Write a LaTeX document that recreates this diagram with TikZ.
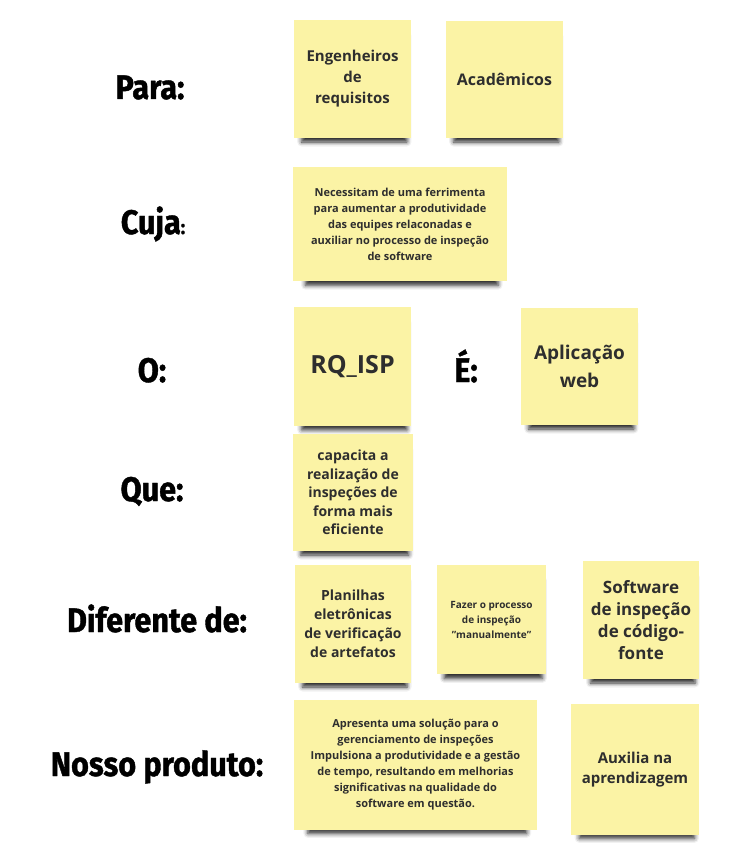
\documentclass[tikz,border=0pt]{standalone}
\usepackage{fontspec}
\setmainfont{Open Sans}
\newfontfamily\lblfont[FakeStretch=0.9, FakeBold=1.2]{Fira Sans}
\usetikzlibrary{positioning, shadows.blur}
\definecolor{stickyyellow}{HTML}{FBF3A5}
\definecolor{stickytext}{HTML}{2E2E2E}

\begin{document}
\begin{tikzpicture}[x=1pt, y=-1pt,
    note/.style={fill=stickyyellow, inner sep=0pt, align=center, text=stickytext,
                 blur shadow={shadow xshift=2pt, shadow yshift=-11pt, shadow scale=0.9,
                              shadow opacity=85, shadow blur radius=5pt}},
    lbl/.style={anchor=base, font=\lblfont\bfseries\fontsize{34}{34}\selectfont},
]
    \useasboundingbox (0,0) rectangle (731,848);

    % Row labels
    \node[lbl] (para) at (150,99) {Para:};
    \node[lbl] (cuja) at (153,234) {Cuja{\fontsize{20}{20}\selectfont:}};
    \node[lbl] (o) at (152,382) {O:};
    \node[lbl] (e) at (466,382) {É:};
    \node[lbl] (que) at (152,501) {Que:};
    \node[lbl] (dif) at (157,632) {Diferente de:};
    \node[lbl] (nosso) at (157,776) {Nosso produto:};

    % Para
    \node[note, minimum width=117pt, minimum height=118pt,
          font=\bfseries\fontsize{15}{21}\selectfont] (eng) at (352.5,79)
          {Engenheiros\\de\\requisitos};
    \node[note, minimum width=117pt, minimum height=117pt,
          font=\bfseries\fontsize{16}{21}\selectfont] (acad) at (504.5,79.5)
          {Acadêmicos};

    % Cuja
    \node[note, minimum width=214pt, minimum height=114pt,
          font=\bfseries\fontsize{11}{16}\selectfont] (necess) at (400,224)
          {Necessitam de uma ferrimenta\\para aumentar a produtividade\\das equipes relaconadas e\\auxiliar no processo de inspeção\\de software};

    % O / É
    \node[note, minimum width=117pt, minimum height=119pt,
          font=\bfseries\fontsize{25}{30}\selectfont] (rqisp) at (352.5,366.5)
          {RQ\_ISP};
    \node[note, minimum width=117pt, minimum height=117pt,
          font=\bfseries\fontsize{19}{28}\selectfont] (apweb) at (579.5,366.5)
          {Aplicação\\web};

    % Que
    \node[note, minimum width=120pt, minimum height=117pt,
          font=\bfseries\fontsize{14}{18.5}\selectfont] (capac) at (353,492.5)
          {capacita a\\realização de\\inspeções de\\forma mais\\eficiente};

    % Diferente de
    \node[note, minimum width=116pt, minimum height=118pt,
          font=\bfseries\fontsize{14}{19}\selectfont] (plan) at (353,624)
          {Planilhas\\eletrônicas\\de verificação\\de artefatos};
    \node[note, minimum width=109pt, minimum height=109pt,
          font=\bfseries\fontsize{10}{15}\selectfont] (fazer) at (491.5,619.5)
          {Fazer o processo\\de inspeção\\"manualmente"};
    \node[note, minimum width=116pt, minimum height=118pt,
          font=\bfseries\fontsize{17}{22}\selectfont] (softw) at (641,620)
          {Software\\de inspeção\\de código-\\fonte};

    % Nosso produto
    \node[note, minimum width=243pt, minimum height=130pt,
          font=\bfseries\fontsize{11}{16}\selectfont] (apres) at (415.5,765)
          {Apresenta uma solução para o\\gerenciamento de inspeções\\Impulsiona a produtividade e a gestão\\de tempo, resultando em melhorias\\significativas na qualidade do\\software em questão.};
    \node[note, minimum width=128pt, minimum height=131pt,
          font=\bfseries\fontsize{15}{20}\selectfont] (auxil) at (635,769.5)
          {Auxilia na\\aprendizagem};
\end{tikzpicture}
\end{document}
